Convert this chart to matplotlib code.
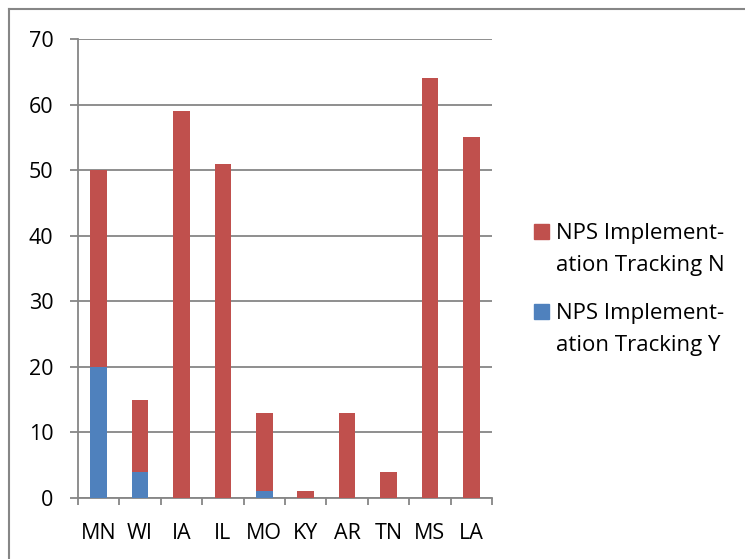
import matplotlib.pyplot as plt
from matplotlib.patches import Rectangle
from matplotlib.lines import Line2D

states = ["MN", "WI", "IA", "IL", "MO", "KY", "AR", "TN", "MS", "LA"]
tracking_y = [20, 4, 0, 0, 1, 0, 0, 0, 0, 0]
tracking_n = [30, 11, 59, 51, 12, 1, 13, 4, 64, 55]
legend_lines = [["NPS Implement-", "ation Tracking N"],
                ["NPS Implement-", "ation Tracking Y"]]

red = "#C0504D"
blue = "#4F81BD"
grey = "#868686"

plt.rcParams["font.family"] = ["Open Sans", "DejaVu Sans"]

W, H = 745, 559
fig = plt.figure(figsize=(W / 100, H / 100), dpi=100)
ax = fig.add_axes([78 / W, 1 - 498 / H, 414 / W, 459 / H])

x = range(len(states))
ax.bar(x, tracking_y, width=0.4, color=blue, zorder=3)
ax.bar(x, tracking_n, width=0.4, bottom=tracking_y, color=red, zorder=3)

ax.set_xlim(-0.5, len(states) - 0.5)
ax.set_ylim(0, 70)
ax.set_yticks(range(0, 71, 10))
ax.set_xticks([i + 0.5 for i in range(-1, len(states))], minor=False)
ax.set_xticklabels([""] * (len(states) + 1))
ax.set_xticks(list(x), minor=True)
ax.set_xticklabels(states, minor=True)

ax.grid(axis="y", color=grey, linewidth=1.3, zorder=0)
for s in ["top", "right"]:
    ax.spines[s].set_visible(False)
for s in ["left", "bottom"]:
    ax.spines[s].set_color(grey)
    ax.spines[s].set_linewidth(1.3)
ax.tick_params(axis="y", which="major", length=5.8, color=grey, width=1.3,
               labelsize=15.5, pad=12)
ax.tick_params(axis="x", which="major", length=5, color=grey, width=1.3)
ax.tick_params(axis="x", which="minor", length=0, labelsize=15.5, pad=18)

# legend drawn by hand: square beside the first line of each entry
for i, (color, lines) in enumerate(zip([red, blue], legend_lines)):
    top = 224 + 80 * i
    fig.add_artist(Rectangle((534 / W, 1 - (top + 15) / H), 15 / W, 15 / H,
                             color=color, transform=fig.transFigure))
    for j, line in enumerate(lines):
        base = top + 15 + 31.5 * j
        fig.text(556 / W, 1 - base / H, line, fontsize=16, va="baseline")

# outer chart border
fig.add_artist(Line2D([9 / W, 9 / W], [0, 1 - 9 / H], color=grey, lw=1.5))
fig.add_artist(Line2D([9 / W, 1], [1 - 9 / H, 1 - 9 / H], color=grey, lw=1.5))

fig.savefig("out.png", dpi=100)
